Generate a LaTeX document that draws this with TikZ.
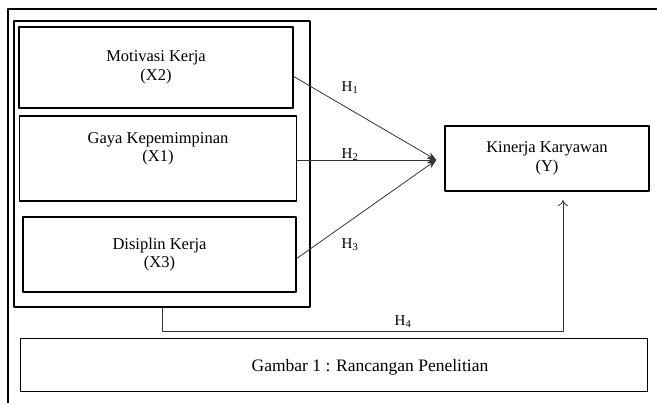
\documentclass[tikz,border=0pt]{standalone}
\usepackage{fontspec}
\setmainfont{Liberation Serif}
\usetikzlibrary{arrows.meta}
\begin{document}
\begin{tikzpicture}[x=1pt,y=-1pt, line join=round,
		kotak/.style={draw,line width=1.3pt,align=center,inner sep=0pt,font=\fontsize{16.5}{18.5}\selectfont},
		panah/.style={draw=black!80,line width=0.8pt,-{Stealth[length=9pt,width=7pt]}},
		hlabel/.style={font=\fontsize{15}{17}\selectfont}]
	\useasboundingbox (0,0) rectangle (657,403);
	% bingkai luar
	\draw[line width=1.2pt] (8,403) -- (8,9) -- (657,9);
	% variabel bebas
	\node[kotak,minimum width=296pt,minimum height=286pt] (grup) at (162,164) {};
	\node[kotak,minimum width=274pt,minimum height=81pt] (motivasi) at (156,67.5) {Motivasi Kerja\\(X2)};
	\node[kotak,minimum width=277pt,minimum height=85pt] (gaya) at (158,158.5) {Gaya Kepemimpinan\\(X1)\\[4pt]};
	\node[kotak,minimum width=273pt,minimum height=75pt] (disiplin) at (159.5,254.5) {Disiplin Kerja\\(X3)};
	% variabel terikat
	\node[kotak,minimum width=204pt,minimum height=65pt] (kinerja) at (547,158.5) {Kinerja Karyawan\\(Y)};
	\coordinate (tip) at ([xshift=-8pt,yshift=-1.5pt]kinerja.west);
	\draw[panah] ([yshift=-9pt]motivasi.east) -- (tip);
	\draw[panah] (gaya.east |- tip) -- (tip);
	\draw[panah] ([yshift=-4pt]disiplin.east) -- (tip);
	\node[hlabel] (h1) at (350,88) {H\textsubscript{1}};
	\node[hlabel] (h2) at (350,155) {H\textsubscript{2}};
	\node[hlabel] (h3) at (350,245) {H\textsubscript{3}};
	% simultan
	\coordinate (ujung) at (563,200);
	\draw[black!80,line width=0.8pt,-{To[length=6pt,width=10pt]}] (grup.south) |- (ujung |- 0,331) -- (ujung);
	\node[hlabel] (h4) at (403,322) {H\textsubscript{4}};
	% keterangan
	\node[draw,line width=0.8pt,minimum width=627pt,minimum height=53pt] (ket) at (333.5,364.5) {};
	\node[font=\fontsize{17.5}{20}\selectfont] (judul) at (370,367) {Gambar 1 : Rancangan Penelitian};
\end{tikzpicture}
\end{document}
